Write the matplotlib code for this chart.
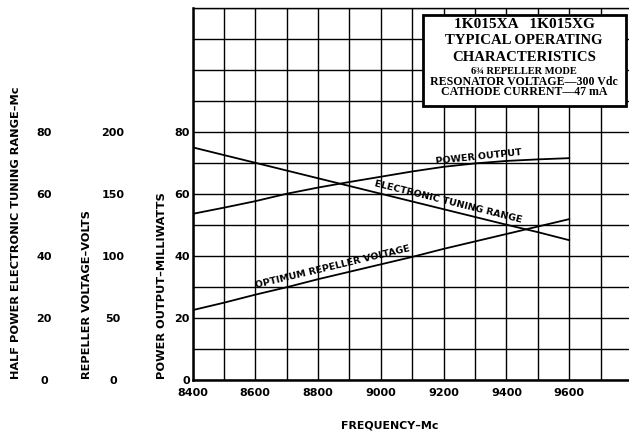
import matplotlib
matplotlib.use("Agg")
import matplotlib.pyplot as plt
from matplotlib.patches import Rectangle

# ---- data ----
freq_mc = [8400, 8500, 8600, 8700, 8800, 8900, 9000, 9100, 9200, 9300, 9400, 9500, 9600]
power_output_mw = [53.5, 55.5, 57.6, 60.0, 62.0, 63.8, 65.5, 67.2, 68.7, 69.8, 70.6, 71.1, 71.5]
tuning_range_mc = [75.0, 72.5, 70.0, 67.5, 65.0, 62.5, 60.0, 57.5, 55.0, 52.5, 50.0, 47.6, 45.0]
repeller_volts = [56, 62, 68.5, 74.5, 81, 87, 93, 99, 105.5, 111.5, 117.5, 123.5, 129.5]

x_ticks = [8400, 8600, 8800, 9000, 9200, 9400, 9600]
power_ticks = [0, 20, 40, 60, 80]
repeller_ticks = [0, 50, 100, 150, 200]
tuning_ticks = [0, 20, 40, 60, 80]

VOLT_PER_MW = 2.5  # repeller scale: 200 V aligned with 80 mW

W, H = 629, 434
fig = plt.figure(figsize=(W / 100, H / 100), dpi=100)

# axes geometry in pixels
px_left, px_right = 192.5, 632.0
px_top, px_bottom = 8.0, 379.5
ax = fig.add_axes([px_left / W, (H - px_bottom) / H,
                   (px_right - px_left) / W, (px_bottom - px_top) / H])
ax.set_xlim(8400, 9800)
ax.set_ylim(0, 120)

SANS = "DejaVu Sans"
SERIF = "Liberation Serif"

# grid
ax.set_xticks(range(8400, 9801, 100))
ax.set_xticklabels([str(v) if v in x_ticks else "" for v in range(8400, 9801, 100)])
ax.set_yticks(range(0, 121, 10))
ax.set_yticklabels([str(v) if v in power_ticks else "" for v in range(0, 121, 10)])
ax.grid(True, color="black", linewidth=1.0)
ax.set_axisbelow(True)
ax.tick_params(length=0, labelsize=8)
ax.tick_params(axis="x", pad=6)
ax.tick_params(axis="y", pad=2)
for lbl in ax.get_xticklabels() + ax.get_yticklabels():
    lbl.set_fontfamily(SANS)
    lbl.set_fontweight("bold")
for s in ["left", "bottom"]:
    ax.spines[s].set_linewidth(1.8)
ax.spines["top"].set_linewidth(1.0)
ax.spines["right"].set_visible(False)

# curves
lw = 1.3
ax.plot(freq_mc, power_output_mw, color="black", lw=lw, zorder=3)
ax.plot(freq_mc, tuning_range_mc, color="black", lw=lw, zorder=3)
ax.plot(freq_mc, [v / VOLT_PER_MW for v in repeller_volts], color="black", lw=lw, zorder=3)

# secondary axes (repeller volts, tuning range)
def make_sec(px_center, fwd, inv, ticks):
    loc = (px_center - px_left) / (px_right - px_left)
    sec = ax.secondary_yaxis(loc, functions=(fwd, inv))
    sec.set_yticks(ticks)
    sec.spines["left"].set_visible(False)
    sec.tick_params(length=0, pad=0, labelsize=8)
    for lbl in sec.get_yticklabels():
        lbl.set_horizontalalignment("center")
        lbl.set_fontfamily(SANS)
        lbl.set_fontweight("bold")
    return sec

make_sec(113, lambda y: y * VOLT_PER_MW, lambda v: v / VOLT_PER_MW, repeller_ticks)
make_sec(44, lambda y: y, lambda v: v, tuning_ticks)

# axis titles
lab_kw = dict(rotation=90, va="bottom", ha="center", fontsize=8.2,
              fontweight="bold", family=SANS)
fig.text(15.7 / W, (H - 379) / H, "HALF POWER ELECTRONIC TUNING RANGE–Mc", **lab_kw)
fig.text(87.5 / W, (H - 379) / H, "REPELLER VOLTAGE–VOLTS", **lab_kw)
fig.text(161.7 / W, (H - 379) / H, "POWER OUTPUT–MILLIWATTS", **lab_kw)
fig.text(389.5 / W, (H - 426) / H, "FREQUENCY–Mc", ha="center", va="center",
         fontsize=7.9, fontweight="bold", family=SANS)

# curve labels
cl_kw = dict(ha="center", va="center", fontsize=6.8, fontweight="bold",
             family=SANS, rotation_mode="anchor", zorder=4)
ax.text(9311, 71.8, "POWER OUTPUT", rotation=6, **cl_kw)
ax.text(9215, 57.4, "ELECTRONIC TUNING RANGE", rotation=-14, **cl_kw)
ax.text(8845, 36.2, "OPTIMUM REPELLER VOLTAGE", rotation=13.5, **cl_kw)

# title box
def ax_x(px):
    return (px - px_left) / (px_right - px_left)

def ax_y(py):
    return (px_bottom - py) / (px_bottom - px_top)

bx0, bx1, by0, by1 = 423, 626, 15, 106
ax.add_patch(Rectangle((ax_x(bx0), ax_y(by1)), ax_x(bx1) - ax_x(bx0), ax_y(by0) - ax_y(by1),
                       transform=ax.transAxes, facecolor="white", edgecolor="black",
                       linewidth=2.0, zorder=5))
cx = ax_x(524)
box_lines = [
    ("1K015XA   1K015XG", 25, 11.0, 1.0),
    ("TYPICAL OPERATING", 40.5, 10.6, 1.0),
    ("CHARACTERISTICS", 57.5, 10.6, 1.0),
    ("6¾ REPELLER MODE", 71.5, 7.5, 1.0),
    ("RESONATOR VOLTAGE—300 Vdc\nCATHODE CURRENT—47 mA", 86.8, 8.6, 0.72),
]
for txt, py, fs, ls in box_lines:
    ax.text(cx, ax_y(py), txt, transform=ax.transAxes, ha="center", va="center",
            fontsize=fs, fontweight="bold", family=SERIF, zorder=6,
            linespacing=ls, multialignment="center")

fig.savefig("out.png", dpi=100)
